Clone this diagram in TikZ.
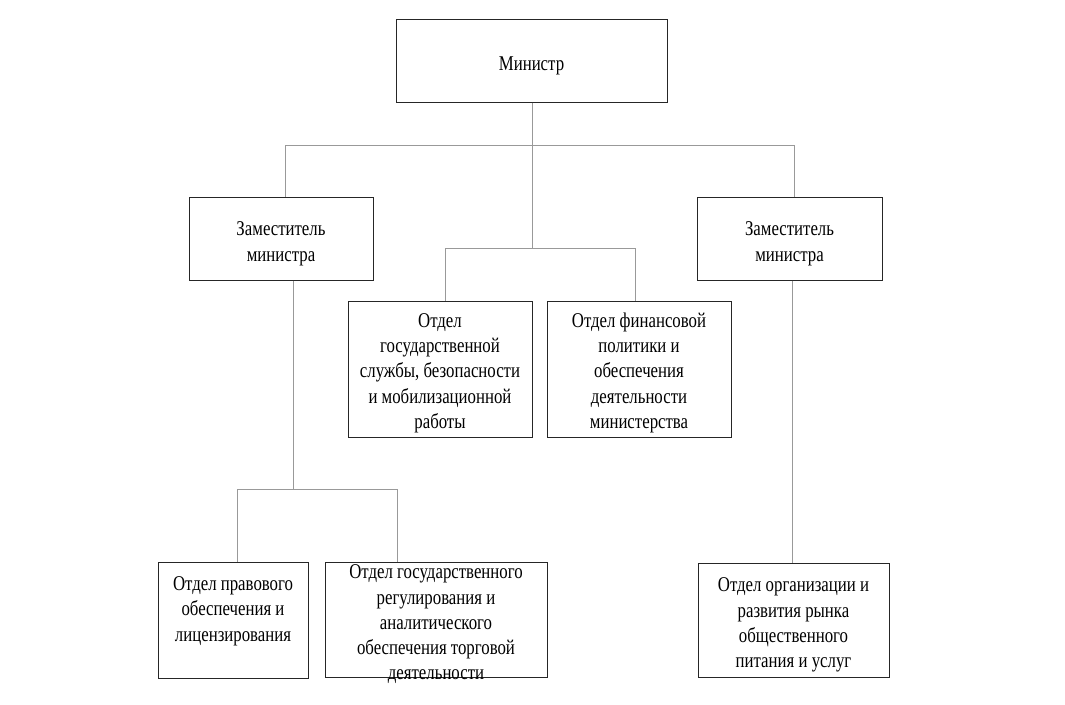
\documentclass[tikz,border=0pt]{standalone}
\usepackage{fontspec}
\setmainfont{Liberation Serif}[FakeStretch=0.8]
\newcommand{\boxtext}[2][-10pt]{\raisebox{#1}[0pt][0pt]{\begin{tabular}{@{}c@{}}#2\end{tabular}}}
\begin{document}
\begin{tikzpicture}[x=1pt,y=-1pt,
    box/.style={draw=black!85,line width=1pt,inner sep=0pt,
      font=\fontsize{21}{25.3}\selectfont},
    link/.style={draw=black!40,line width=0.9pt}]
  \useasboundingbox (0,0) rectangle (1065,704);
  % boxes
  \node[box,minimum width=271,minimum height=83] (min) at (531.5,60.5) {\boxtext{Министр}};
  \node[box,minimum width=184,minimum height=83] (zl) at (281,238.5) {\boxtext{Заместитель\\министра}};
  \node[box,minimum width=185,minimum height=83] (zr) at (789.5,238.5) {\boxtext{Заместитель\\министра}};
  \node[box,minimum width=184,minimum height=136] (gos) at (440,369)
    {\boxtext[-9pt]{Отдел\\государственной\\службы, безопасности\\и мобилизационной\\работы}};
  \node[box,minimum width=184,minimum height=136] (fin) at (639,369)
    {\boxtext[-9pt]{Отдел финансовой\\политики и\\обеспечения\\деятельности\\министерства}};
  \node[box,minimum width=150,minimum height=116] (prav) at (233,620)
    {\boxtext[4pt]{Отдел правового\\обеспечения и\\лицензирования}};
  \node[box,minimum width=222,minimum height=115] (reg) at (436,619.5)
    {\boxtext{Отдел государственного\\регулирования и\\аналитического\\обеспечения торговой\\деятельности}};
  \node[box,minimum width=191,minimum height=114] (pit) at (793.5,620)
    {\boxtext{Отдел организации и\\развития рынка\\общественного\\питания и услуг}};
  % buses
  \coordinate (b1) at (532,145);
  \coordinate (b2) at (532,248);
  \coordinate (b3) at (293,489);
  % links
  \draw[link] (min.south -| b1) -- (b2);
  \draw[link] (285,145 |- zl.north) -- (285,145) -- (794,145) -- (794,145 |- zr.north);
  \draw[link] (445,301 |- gos.north) -- (445,248) -- (635,248) -- (635,248 |- fin.north);
  \draw[link] (zl.south -| b3) -- (b3);
  \draw[link] (237,489 |- prav.north) -- (237,489) -- (397,489) -- (397,489 |- reg.north);
  \draw[link] (zr.south -| 792,0) -- (792,0 |- pit.north);
\end{tikzpicture}
\end{document}
